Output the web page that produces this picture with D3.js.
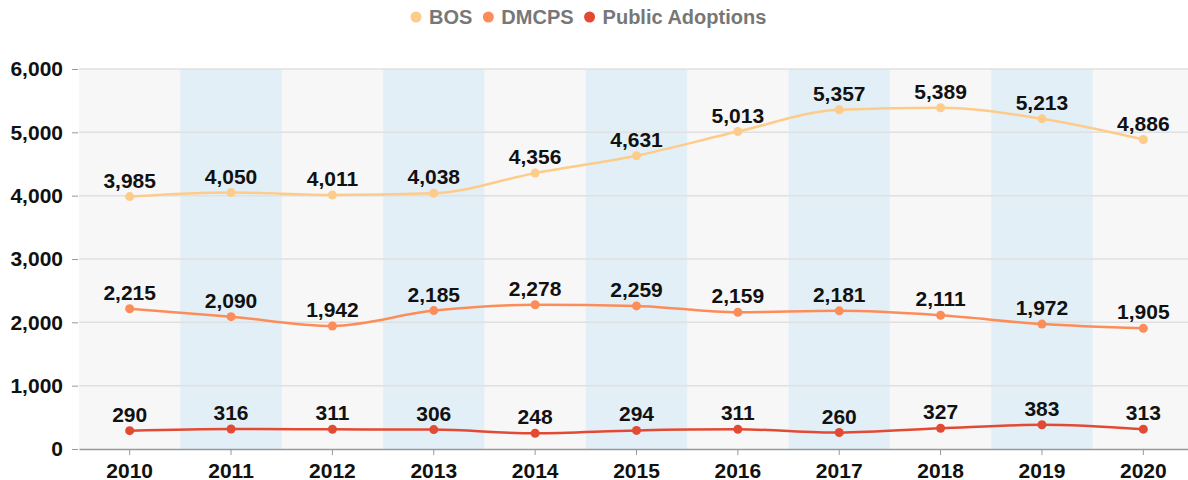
<!DOCTYPE html>
<html>
<head>
<meta charset="utf-8">
<script src="https://cdn.jsdelivr.net/npm/d3@7"></script>
<style>
body { margin: 0; background: #fff; font-family: "Liberation Sans", Arial, sans-serif; }
svg text { font-family: "Liberation Sans", Arial, sans-serif; font-weight: bold; }
</style>
</head>
<body>
<script>
var years = ["2010","2011","2012","2013","2014","2015","2016","2017","2018","2019","2020"];
var bos = [3985, 4050, 4011, 4038, 4356, 4631, 5013, 5357, 5389, 5213, 4886];
var dmcps = [2215, 2090, 1942, 2185, 2278, 2259, 2159, 2181, 2111, 1972, 1905];
var adoptions = [290, 316, 311, 306, 248, 294, 311, 260, 327, 383, 313];
var seriesNames = ["BOS", "DMCPS", "Public Adoptions"];
var seriesColors = ["#fdcc8a", "#fc8d59", "#e34a33"];
var yTicks = [0, 1000, 2000, 3000, 4000, 5000, 6000];

var W = 1188, H = 480;
var margin = {top: 69, right: -6, bottom: 31, left: 79};
var width = W - margin.left - margin.right,
	height = H - margin.top - margin.bottom;

var svg = d3.select("body").append("svg")
	.attr("width", W)
	.attr("height", H);

var g = svg.append("g")
	.attr("transform", "translate(" + margin.left + "," + margin.top + ")");

var x = d3.scaleBand().domain(years).range([0, width]).padding(0);
var y = d3.scaleLinear().domain([0, 6000]).range([height, 0]);

// background + alternating bands
g.append("rect")
	.attr("x", 0).attr("y", 0)
	.attr("width", width).attr("height", height)
	.attr("fill", "#f7f7f7");

g.append("g")
	.selectAll("rect")
	.data(years.filter(function(d, i){ return i % 2 == 1; }))
	.enter()
	.append("rect")
	.attr("x", function(d){ return x(d); })
	.attr("y", 0)
	.attr("width", x.bandwidth())
	.attr("height", height)
	.attr("fill", "#e3eff7");

// gridlines
g.append("g")
	.selectAll("line")
	.data(yTicks.filter(function(d){ return d > 0; }))
	.enter()
	.append("line")
	.attr("x1", 0).attr("x2", width)
	.attr("y1", function(d){ return y(d); })
	.attr("y2", function(d){ return y(d); })
	.attr("stroke", "#e0e0e0")
	.attr("stroke-width", 1.5);

// y axis
var yAxis = g.append("g")
	.call(d3.axisLeft(y).tickValues(yTicks).tickSize(6).tickPadding(10).tickFormat(d3.format(",")));
yAxis.select(".domain").remove();
yAxis.selectAll(".tick line").attr("stroke", "#999").attr("x2", -1).attr("x1", -7);
yAxis.selectAll("text").attr("fill", "#111").style("font-size", "21px");

// x axis
var xAxis = g.append("g")
	.attr("transform", "translate(0," + height + ")")
	.call(d3.axisBottom(x).tickSize(6).tickPadding(8).tickSizeOuter(0));
xAxis.select(".domain").attr("stroke", "#999").attr("stroke-width", 1.5);
xAxis.selectAll(".tick line").attr("stroke", "#999");
xAxis.selectAll("text").attr("fill", "#111").style("font-size", "21px");

var series = [bos, dmcps, adoptions];

var line = d3.line()
	.x(function(d, i){ return x(years[i]) + x.bandwidth() / 2; })
	.y(function(d){ return y(d); })
	.curve(d3.curveMonotoneX);

series.forEach(function(vals, s){
	var sg = g.append("g").attr("class", "series");
	sg.append("path")
		.datum(vals)
		.attr("fill", "none")
		.attr("stroke", seriesColors[s])
		.attr("stroke-width", 2.5)
		.attr("d", line);

	sg.selectAll("circle")
		.data(vals)
		.enter()
		.append("circle")
		.attr("cx", function(d, i){ return x(years[i]) + x.bandwidth() / 2; })
		.attr("cy", function(d){ return y(d); })
		.attr("r", 4.5)
		.attr("fill", seriesColors[s]);

	sg.selectAll("text")
		.data(vals)
		.enter()
		.append("text")
		.attr("x", function(d, i){ return x(years[i]) + x.bandwidth() / 2; })
		.attr("y", function(d){ return y(d) - 9; })
		.attr("text-anchor", "middle")
		.attr("fill", "#111")
		.style("font-size", "21px")
		.text(function(d){ return d3.format(",")(d); });
});

// legend
var legend = svg.append("g").attr("class", "legend");
var lx = 410;
seriesNames.forEach(function(name, i){
	var item = legend.append("g");
	item.append("circle")
		.attr("cx", lx + 6)
		.attr("cy", 17)
		.attr("r", 5.5)
		.attr("fill", seriesColors[i]);
	var t = item.append("text")
		.attr("x", lx + 19)
		.attr("y", 24)
		.attr("fill", "#777")
		.style("font-size", "20px")
		.text(name);
	lx += 19 + t.node().getComputedTextLength() + 10;
});
</script>
</body>
</html>
